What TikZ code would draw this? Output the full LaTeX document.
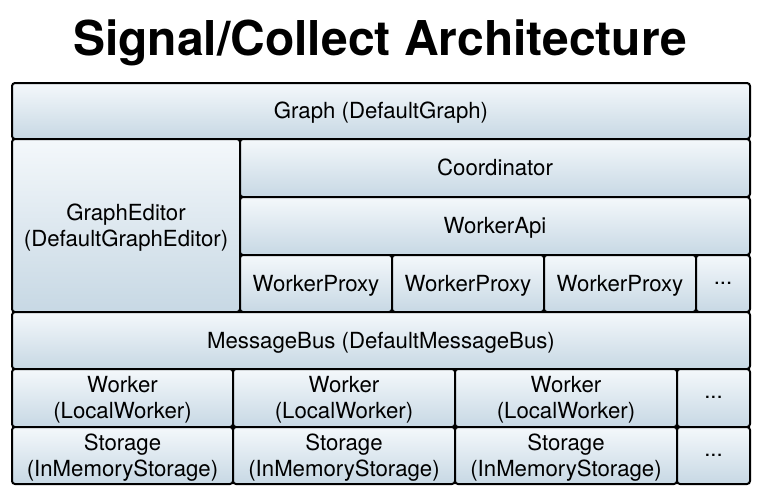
\documentclass[tikz,border=0pt]{standalone}
\usepackage{fontspec}
\setmainfont{TeX Gyre Heros}
\usetikzlibrary{positioning}

\definecolor{boxtop}{HTML}{F4F8FB}
\definecolor{boxbottom}{HTML}{C7D8E4}

\begin{document}
\begin{tikzpicture}[x=0.5pt, y=-0.5pt,
    layer/.style={draw=black, line width=1pt, rounded corners=1.5pt,
        top color=boxtop, bottom color=boxbottom, inner sep=0pt, outer sep=0pt,
        anchor=north west, align=center, text depth=0.5pt,
        font=\fontsize{11.1}{13}\selectfont},
    node distance=0pt]
    \useasboundingbox (0,0) rectangle (760,495);

    \node[font=\bfseries\fontsize{24}{26}\selectfont, anchor=base] (title) at (380,55)
        {Signal/Collect Architecture};

    % top of the stack
    \node[layer, minimum width=369pt, minimum height=28pt] (graph) at (12,83) {Graph (DefaultGraph)};
    \node[layer, minimum width=114pt, minimum height=86.5pt] (editor) at (12,139) {GraphEditor\\(DefaultGraphEditor)};
    \node[layer, minimum width=255pt, minimum height=29pt] (coord) at (240,139) {Coordinator};
    \node[layer, minimum width=255pt, minimum height=29pt] (api) at (240,197) {WorkerApi};

    % proxies
    \node[layer, minimum width=76pt, minimum height=28.5pt] (proxy1) at (240,255) {WorkerProxy};
    \node[layer, minimum width=76pt, minimum height=28.5pt] (proxy2) at (392,255) {WorkerProxy};
    \node[layer, minimum width=76pt, minimum height=28.5pt] (proxy3) at (544,255) {WorkerProxy};
    \node[layer, minimum width=27pt, minimum height=28.5pt] (proxy4) at (696,255) {...};

    \node[layer, minimum width=369pt, minimum height=28.5pt] (bus) at (12,312) {MessageBus (DefaultMessageBus)};

    % workers and their storage
    \node[layer, minimum width=110.5pt, minimum height=29pt] (worker1) at (12,369) {Worker\\(LocalWorker)};
    \node[layer, minimum width=111pt, minimum height=29pt] (worker2) at (233,369) {Worker\\(LocalWorker)};
    \node[layer, minimum width=111pt, minimum height=29pt] (worker3) at (455,369) {Worker\\(LocalWorker)};
    \node[layer, minimum width=36.5pt, minimum height=29pt] (worker4) at (677,369) {...};

    \node[layer, minimum width=110.5pt, minimum height=28.5pt] (store1) at (12,427) {Storage\\(InMemoryStorage)};
    \node[layer, minimum width=111pt, minimum height=28.5pt] (store2) at (233,427) {Storage\\(InMemoryStorage)};
    \node[layer, minimum width=111pt, minimum height=28.5pt] (store3) at (455,427) {Storage\\(InMemoryStorage)};
    \node[layer, minimum width=36.5pt, minimum height=28.5pt] (store4) at (677,427) {...};
\end{tikzpicture}
\end{document}
